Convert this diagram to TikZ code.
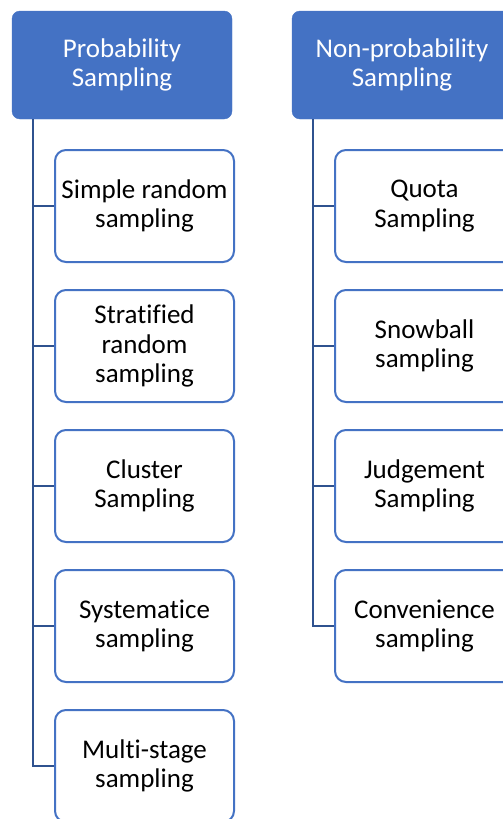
\documentclass[tikz,border=0pt]{standalone}
\usepackage{fontspec}
\setmainfont{Carlito}[RawFeature={-liga;-clig;-dlig}]
\definecolor{hdrblue}{HTML}{4472C4}
\definecolor{connblue}{HTML}{2F528F}
\begin{document}
\begin{tikzpicture}[x=1pt,y=-1pt,
  hdr/.style={fill=hdrblue, draw=hdrblue, rounded corners=8pt, minimum width=220pt, minimum height=108pt, text=white, align=center, font=\fontsize{27}{29.5}\selectfont, inner sep=0pt},
  child/.style={draw=hdrblue, line width=2pt, fill=white, rounded corners=11pt, minimum width=179pt, minimum height=112pt, align=center, font=\fontsize{27}{29.5}\selectfont, inner sep=0pt},
  conn/.style={draw=connblue, line width=2.5pt}]
\useasboundingbox (0,0) rectangle (503,819);
\clip (0,0) rectangle (503,819);
\node[hdr] (p) at (122,65) {Probability\\Sampling};
\node[hdr] (n) at (402,65) {Non-probability\\Sampling};
\node[child] (p1) at (144.5,206) {Simple random\\sampling};
\node[child] (p2) at (144.5,346) {Stratified\\random\\sampling};
\node[child] (p3) at (144.5,486) {Cluster\\Sampling};
\node[child] (p4) at (144.5,626) {Systematice\\sampling};
\node[child] (p5) at (144.5,766) {Multi-stage\\sampling};
\node[child] (n1) at (424.5,206) {Quota\\Sampling};
\node[child] (n2) at (424.5,346) {Snowball\\sampling};
\node[child] (n3) at (424.5,486) {Judgement\\Sampling};
\node[child] (n4) at (424.5,626) {Convenience\\sampling};
\foreach \c in {p1,p2,p3,p4,p5}
  \draw[conn] ([xshift=21pt]p.south west) |- (\c.west);
\foreach \c in {n1,n2,n3,n4}
  \draw[conn] ([xshift=21pt]n.south west) |- (\c.west);
\end{tikzpicture}
\end{document}
